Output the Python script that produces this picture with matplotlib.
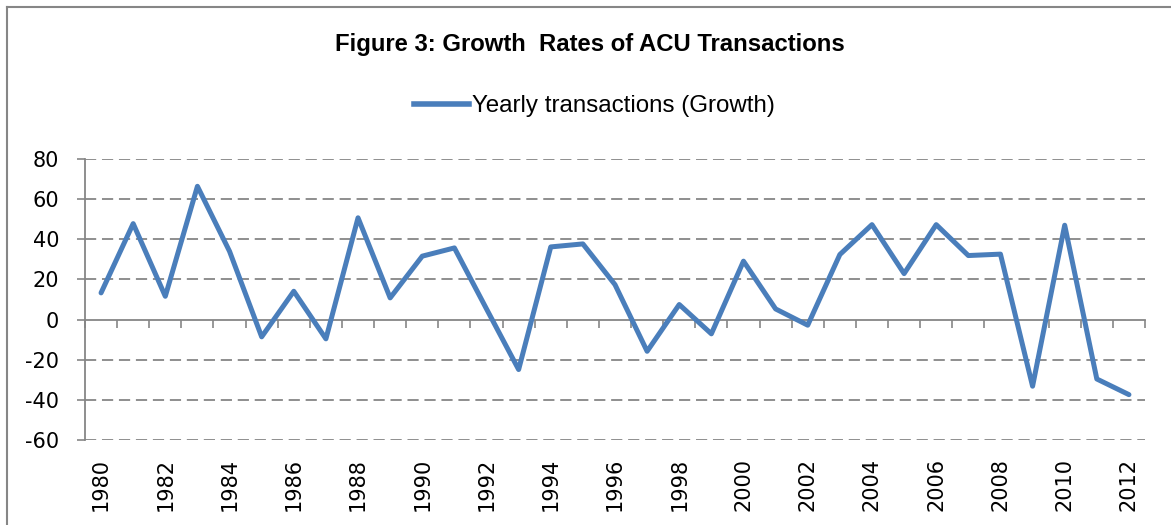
import matplotlib
matplotlib.use("Agg")
import matplotlib.pyplot as plt
from matplotlib.lines import Line2D

years = list(range(1980, 2013))
growth = [13.3, 47.8, 11.6, 66.4, 34.0, -8.6, 14.1, -9.6, 50.7, 10.8,
          31.6, 35.7, 5.3, -24.9, 36.2, 37.7, 17.4, -15.8, 7.5, -7.1,
          29.1, 5.3, -2.8, 32.4, 47.3, 22.9, 47.3, 31.9, 32.6, -33.2,
          47.0, -29.6, -37.4]
yticks = [-60, -40, -20, 0, 20, 40, 60, 80]
title = "Figure 3: Growth  Rates of ACU Transactions"
series_name = "Yearly transactions (Growth)"

W, H = 1171, 525
fig = plt.figure(figsize=(W / 100, H / 100), dpi=100)
fig.patch.set_facecolor("white")

grey = "#868686"
blue = "#4A7EBB"

ax = fig.add_axes([85 / W, 1 - 440 / H, (1145 - 85) / W, (440 - 159) / H])
x = list(range(len(years)))
ax.plot(x, growth, color=blue, lw=3.6, solid_joinstyle="round",
        solid_capstyle="round", zorder=3)

ax.set_xlim(-0.5, len(years) - 0.5)
ax.set_ylim(-60, 80)
ax.set_yticks(yticks)
ax.set_yticklabels([str(v) for v in yticks], fontsize=15, family="DejaVu Sans")
for v in yticks:
    if v != 0:
        ax.axhline(v, color=grey, lw=1.3, linestyle=(0, (6.2, 3.2)), zorder=1)

for s in ["top", "right"]:
    ax.spines[s].set_visible(False)
ax.spines["left"].set_color(grey)
ax.spines["left"].set_linewidth(1.3)
ax.spines["bottom"].set_position(("data", 0))
ax.spines["bottom"].set_color(grey)
ax.spines["bottom"].set_linewidth(1.3)
ax.tick_params(axis="y", direction="out", length=5.5, width=1.2, color=grey,
               pad=13, labelcolor="black")
ax.set_xticks([i - 0.5 for i in range(len(years) + 1)])
ax.set_xticklabels([])
ax.tick_params(axis="x", direction="out", length=6, width=1.2, color=grey)

sec = ax.secondary_xaxis(0.0)
sec.spines["bottom"].set_visible(False)
sec.set_xticks(x[::2])
sec.set_xticklabels([str(y) for y in years[::2]], rotation=90,
                    fontsize=15, family="DejaVu Sans")
sec.tick_params(axis="x", length=0, pad=13)

fig.text(590 / W, 1 - 44 / H, title, ha="center", va="center",
         fontsize=17.2, fontweight="bold", family="Liberation Sans")

handle = Line2D([], [], color=blue, lw=4)
fig.legend([handle], [series_name], loc="center",
           bbox_to_anchor=(594 / W, 1 - 106 / H), frameon=False,
           prop={"family": "Liberation Sans", "size": 17.4},
           handlelength=2.3, handletextpad=0.1)

fig.add_artist(Line2D([7 / W, 1], [1 - 7 / H, 1 - 7 / H], color=grey, lw=1.5,
                      transform=fig.transFigure))
fig.add_artist(Line2D([7 / W, 7 / W], [0, 1 - 7 / H], color=grey, lw=1.5,
                      transform=fig.transFigure))

fig.savefig("out.png", dpi=100, facecolor="white")
